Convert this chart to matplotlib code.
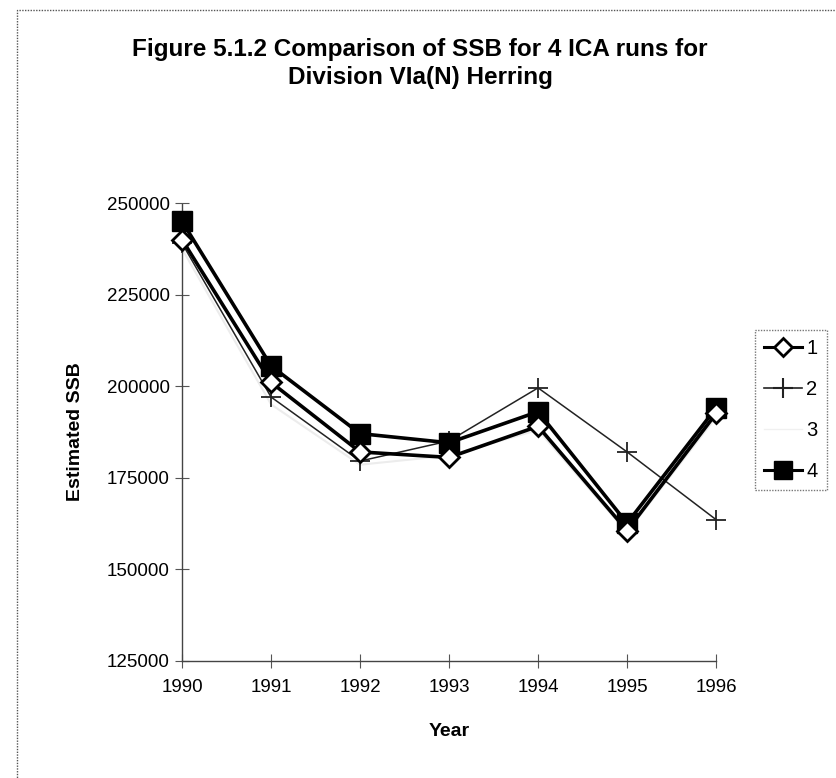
import matplotlib
matplotlib.use("Agg")
import matplotlib.pyplot as plt
from matplotlib.lines import Line2D
from matplotlib.patches import Rectangle

years = [1990, 1991, 1992, 1993, 1994, 1995, 1996]
run1 = [240000, 201000, 182000, 180500, 189000, 160500, 192500]
run2 = [239000, 197000, 179500, 185000, 199500, 182000, 163500]
run3 = [237500, 195000, 178500, 181000, 188000, 160000, 191500]
run4 = [245000, 205500, 187000, 184500, 193000, 162500, 194000]
yticks = [125000, 150000, 175000, 200000, 225000, 250000]

plt.rcParams['font.family'] = ['Liberation Sans', 'DejaVu Sans']

fig = plt.figure(figsize=(8.37, 7.78), dpi=100)
ax = fig.add_axes([0.2175, 0.151, 0.638, 0.588])

ax.plot(years, run3, color='#ececec', lw=1.5, zorder=1, clip_on=False)
ax.plot(years, run2, color='#222222', lw=1.1, marker='+', ms=14, mew=1.3, zorder=2, clip_on=False)
ax.plot(years, run4, color='black', lw=2.6, marker='s', ms=14, mfc='black', mec='black', zorder=3, clip_on=False)
ax.plot(years, run1, color='black', lw=2.6, marker='D', ms=10, mfc='white', mec='black', mew=2, zorder=4, clip_on=False)

ax.set_xlim(1990, 1996)
ax.set_ylim(125000, 250000)
ax.set_xticks(years)
ax.set_yticks(yticks)
ax.set_xticklabels([str(y) for y in years], fontsize=13.5)
ax.set_yticklabels([str(v) for v in yticks], fontsize=13.5)
ax.tick_params(axis='y', direction='inout', length=10, width=0.8, color='#555555', pad=4)
ax.tick_params(axis='x', direction='inout', length=10, width=0.8, color='#555555', pad=8)
for s in ['top', 'right']:
    ax.spines[s].set_visible(False)
for s in ['left', 'bottom']:
    ax.spines[s].set_linestyle((0, (1, 1)))
    ax.spines[s].set_color('#444444')
    ax.spines[s].set_linewidth(1.0)
ax.set_facecolor('none')

ax.set_xlabel('Year', fontsize=14, fontweight='bold', labelpad=20)
ax.set_ylabel('Estimated SSB', fontsize=14, fontweight='bold', labelpad=16)

fig.text(0.502, 0.937, 'Figure 5.1.2 Comparison of SSB for 4 ICA runs for', ha='center', va='center',
         fontsize=17.5, fontweight='bold')
fig.text(0.502, 0.900, 'Division VIa(N) Herring', ha='center', va='center',
         fontsize=17.5, fontweight='bold')

# outer chart border
border = Rectangle((0.020, -0.01), 1.2, 0.997, transform=fig.transFigure, fill=False,
                   lw=1.0, ls=(0, (1, 1)), ec='#555555')
fig.add_artist(border)

handles = [
    Line2D([], [], color='black', lw=2.2, marker='D', ms=9, mfc='white', mec='black', mew=2),
    Line2D([], [], color='#222222', lw=1.2, marker='+', ms=14, mew=1.5),
    Line2D([], [], color='#f0f0f0', lw=1.0),
    Line2D([], [], color='black', lw=2.2, marker='s', ms=13, mfc='black', mec='black'),
]
leg = fig.legend(handles, ['1', '2', '3', '4'], loc='upper left', bbox_to_anchor=(0.902, 0.576),
                 fontsize=14.5, frameon=True, fancybox=False, handlelength=1.9, handletextpad=0.2,
                 labelspacing=1.1, borderpad=0.45, borderaxespad=0)
leg.get_frame().set_edgecolor('#555555')
leg.get_frame().set_linestyle((0, (1, 1)))
leg.get_frame().set_linewidth(1.0)

fig.savefig('out.png', dpi=100)
